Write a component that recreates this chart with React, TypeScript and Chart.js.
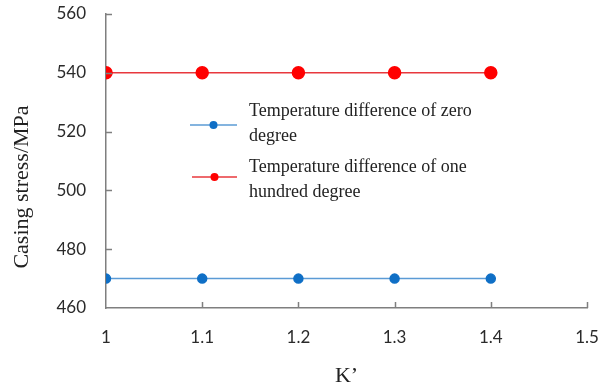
import React, { useEffect, useRef } from "react";
import { Chart, registerables } from "chart.js";

Chart.register(...registerables);

const kValues = [1, 1.1, 1.2, 1.3, 1.4];
const zeroDegree = [470, 470, 470, 470, 470];
const hundredDegree = [540, 540, 540, 540, 540];
const legendZero = ["Temperature difference of zero", "degree"];
const legendHundred = ["Temperature difference of one", "hundred degree"];
const yTitle = "Casing stress/MPa";
const xTitle = "K’";

const BLUE = "#0F6FC6";
const BLUE_LINE = "#5B9BD5";
const RED = "#FF0000";
const RED_LINE = "#E8383D";

const innerTicks = {
  id: "innerTicks",
  afterDatasetsDraw(chart: any) {
    const ctx = chart.ctx;
    const x = chart.scales.x;
    const y = chart.scales.y;
    ctx.save();
    ctx.strokeStyle = "#7F7F7F";
    ctx.lineWidth = 1.5;
    ctx.beginPath();
    y.ticks.forEach((t: any) => {
      if (t.value === y.min) return;
      const py = Math.round(y.getPixelForValue(t.value)) + 0.5;
      ctx.moveTo(x.left, py);
      ctx.lineTo(x.left + 6, py);
    });
    x.ticks.forEach((t: any) => {
      if (t.value === x.min) return;
      const px = Math.round(x.getPixelForValue(t.value)) + 0.5;
      ctx.moveTo(px, y.bottom);
      ctx.lineTo(px, y.bottom - 6);
    });
    ctx.stroke();

    // y-axis title (offset downward as in the source figure)
    ctx.save();
    ctx.translate(22, 187);
    ctx.rotate(-Math.PI / 2);
    ctx.fillStyle = "#222";
    ctx.font = "22px 'Liberation Serif', serif";
    ctx.textAlign = "center";
    ctx.textBaseline = "middle";
    ctx.fillText(yTitle, 0, 0);
    ctx.restore();

    // legend
    const drawItem = (cy: number, textTop: number, lines: string[], lc: string, pc: string, r: number, x0: number) => {
      ctx.strokeStyle = lc;
      ctx.lineWidth = 1.5;
      ctx.beginPath();
      ctx.moveTo(x0, cy);
      ctx.lineTo(237, cy);
      ctx.stroke();
      ctx.fillStyle = pc;
      ctx.beginPath();
      ctx.arc((x0 + 237) / 2, cy, r, 0, Math.PI * 2);
      ctx.fill();
      ctx.fillStyle = "#222";
      ctx.font = "18px 'Liberation Serif', serif";
      ctx.textBaseline = "middle";
      ctx.textAlign = "left";
      lines.forEach((l, i) => ctx.fillText(l, 249, textTop + i * 25));
    };
    drawItem(125, 111, legendZero, BLUE_LINE, BLUE, 4, 190);
    drawItem(177, 167, legendHundred, RED_LINE, RED, 4, 192);
    ctx.restore();
  },
};

export default function App() {
  const ref = useRef<HTMLCanvasElement>(null);
  useEffect(() => {
    if (!ref.current) return;
    const chart = new Chart(ref.current, {
      type: "line",
      data: {
        datasets: [
          {
            label: legendZero.join(" "),
            data: kValues.map((k, i) => ({ x: k, y: zeroDegree[i] })),
            borderColor: BLUE_LINE,
            backgroundColor: BLUE,
            pointBackgroundColor: BLUE,
            pointBorderColor: BLUE,
            pointRadius: 4.5,
            borderWidth: 1.5,
          },
          {
            label: legendHundred.join(" "),
            data: kValues.map((k, i) => ({ x: k, y: hundredDegree[i] })),
            borderColor: RED_LINE,
            backgroundColor: RED,
            pointBackgroundColor: RED,
            pointBorderColor: RED,
            pointRadius: 6,
            borderWidth: 1.5,
          },
        ],
      },
      options: {
        animation: false,
        responsive: false,
        maintainAspectRatio: false,
        layout: { padding: { left: 0, right: 15, top: 14, bottom: 0 } },
        plugins: { legend: { display: false }, tooltip: { enabled: false } },
        scales: {
          x: {
            type: "linear",
            min: 1,
            max: 1.5,
            ticks: {
              stepSize: 0.1,
              color: "#2A2A2A",
              font: { family: "Lato", size: 17 },
              padding: 19,
              callback: (v: any) => String(Math.round(Number(v) * 10) / 10),
            },
            grid: { display: true, drawOnChartArea: false, drawTicks: false },
            border: { display: true, color: "#7F7F7F", width: 1.5 },
            title: {
              display: true,
              text: xTitle,
              color: "#222",
              font: { family: "'Liberation Serif', serif", size: 22 },
              padding: { top: 0, bottom: 1 },
            },
            afterFit: (s: any) => {
              s.height = 82;
              s.paddingLeft = 0;
              s.paddingRight = 0;
            },
          },
          y: {
            min: 460,
            max: 560,
            ticks: {
              stepSize: 20,
              color: "#2A2A2A",
              font: { family: "Lato", size: 17 },
              padding: 20,
            },
            grid: { display: true, drawOnChartArea: false, drawTicks: false },
            border: { display: true, color: "#7F7F7F", width: 1.5 },
            title: { display: false },
            afterFit: (s: any) => {
              s.width = 106;
              s.paddingTop = 0;
              s.paddingBottom = 0;
            },
          },
        },
      },
      plugins: [innerTicks],
    });
    return () => chart.destroy();
  }, []);
  return (
    <div style={{ position: "fixed", left: 0, top: 0, width: 602, height: 390, background: "#fff" }}>
      <canvas ref={ref} width={602} height={390} style={{ display: "block" }} />
    </div>
  );
}
